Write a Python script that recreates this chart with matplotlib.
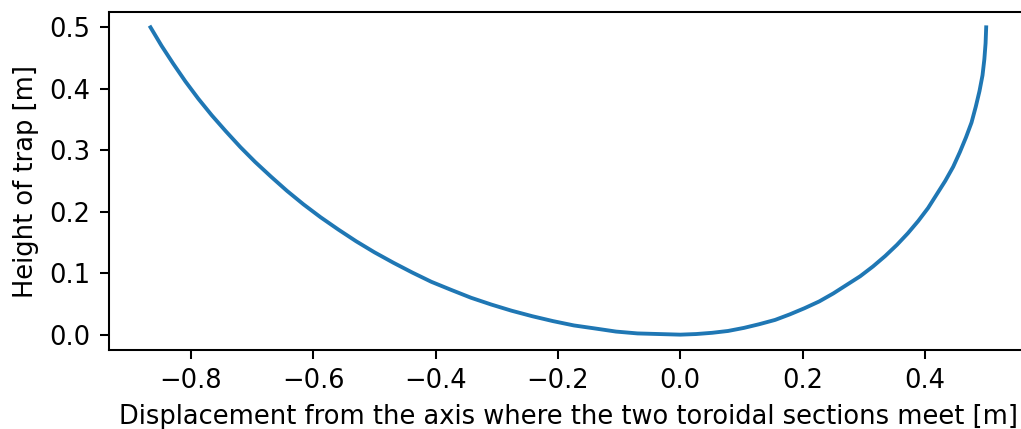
import numpy as np
import matplotlib.pyplot as plt

# wide (R = 1 m) toroidal section, left of the meeting axis
x_left = [-0.866, -0.848, -0.829, -0.809, -0.788, -0.766, -0.743, -0.719,
          -0.695, -0.669, -0.643, -0.616, -0.588, -0.559, -0.530, -0.500,
          -0.469, -0.438, -0.407, -0.375, -0.342, -0.309, -0.276, -0.242,
          -0.208, -0.174, -0.139, -0.105, -0.070, -0.035, 0.000]
y_left = [0.500, 0.470, 0.441, 0.412, 0.384, 0.357, 0.331, 0.305,
          0.281, 0.257, 0.234, 0.212, 0.191, 0.171, 0.152, 0.134,
          0.117, 0.101, 0.086, 0.073, 0.060, 0.049, 0.039, 0.030,
          0.022, 0.015, 0.010, 0.005, 0.002, 0.001, 0.000]

# tight (R = 0.5 m) toroidal section, right of the meeting axis
x_right = [0.026, 0.052, 0.078, 0.104, 0.129, 0.155, 0.179, 0.203, 0.227,
           0.250, 0.272, 0.294, 0.315, 0.335, 0.354, 0.372, 0.389, 0.405,
           0.419, 0.433, 0.446, 0.457, 0.467, 0.476, 0.483, 0.489, 0.494,
           0.497, 0.499, 0.500]
y_right = [0.001, 0.003, 0.006, 0.011, 0.017, 0.024, 0.033, 0.043, 0.054,
           0.067, 0.081, 0.095, 0.111, 0.128, 0.146, 0.165, 0.185, 0.206,
           0.228, 0.250, 0.273, 0.297, 0.321, 0.345, 0.371, 0.396, 0.422,
           0.448, 0.474, 0.500]

x = np.array(x_left + x_right)
y = np.array(y_left + y_right)

fig = plt.figure(figsize=(5.524, 2.319), dpi=185)
ax = fig.add_axes([0.1064, 0.1841, 0.8995, 0.788])
ax.plot(x, y, color="#1f77b4", linewidth=1.5)
ax.set_xlabel("Displacement from the axis where the two toroidal sections meet [m]")
ax.set_ylabel("Height of trap [m]")

fig.savefig("out.png", dpi=185)
